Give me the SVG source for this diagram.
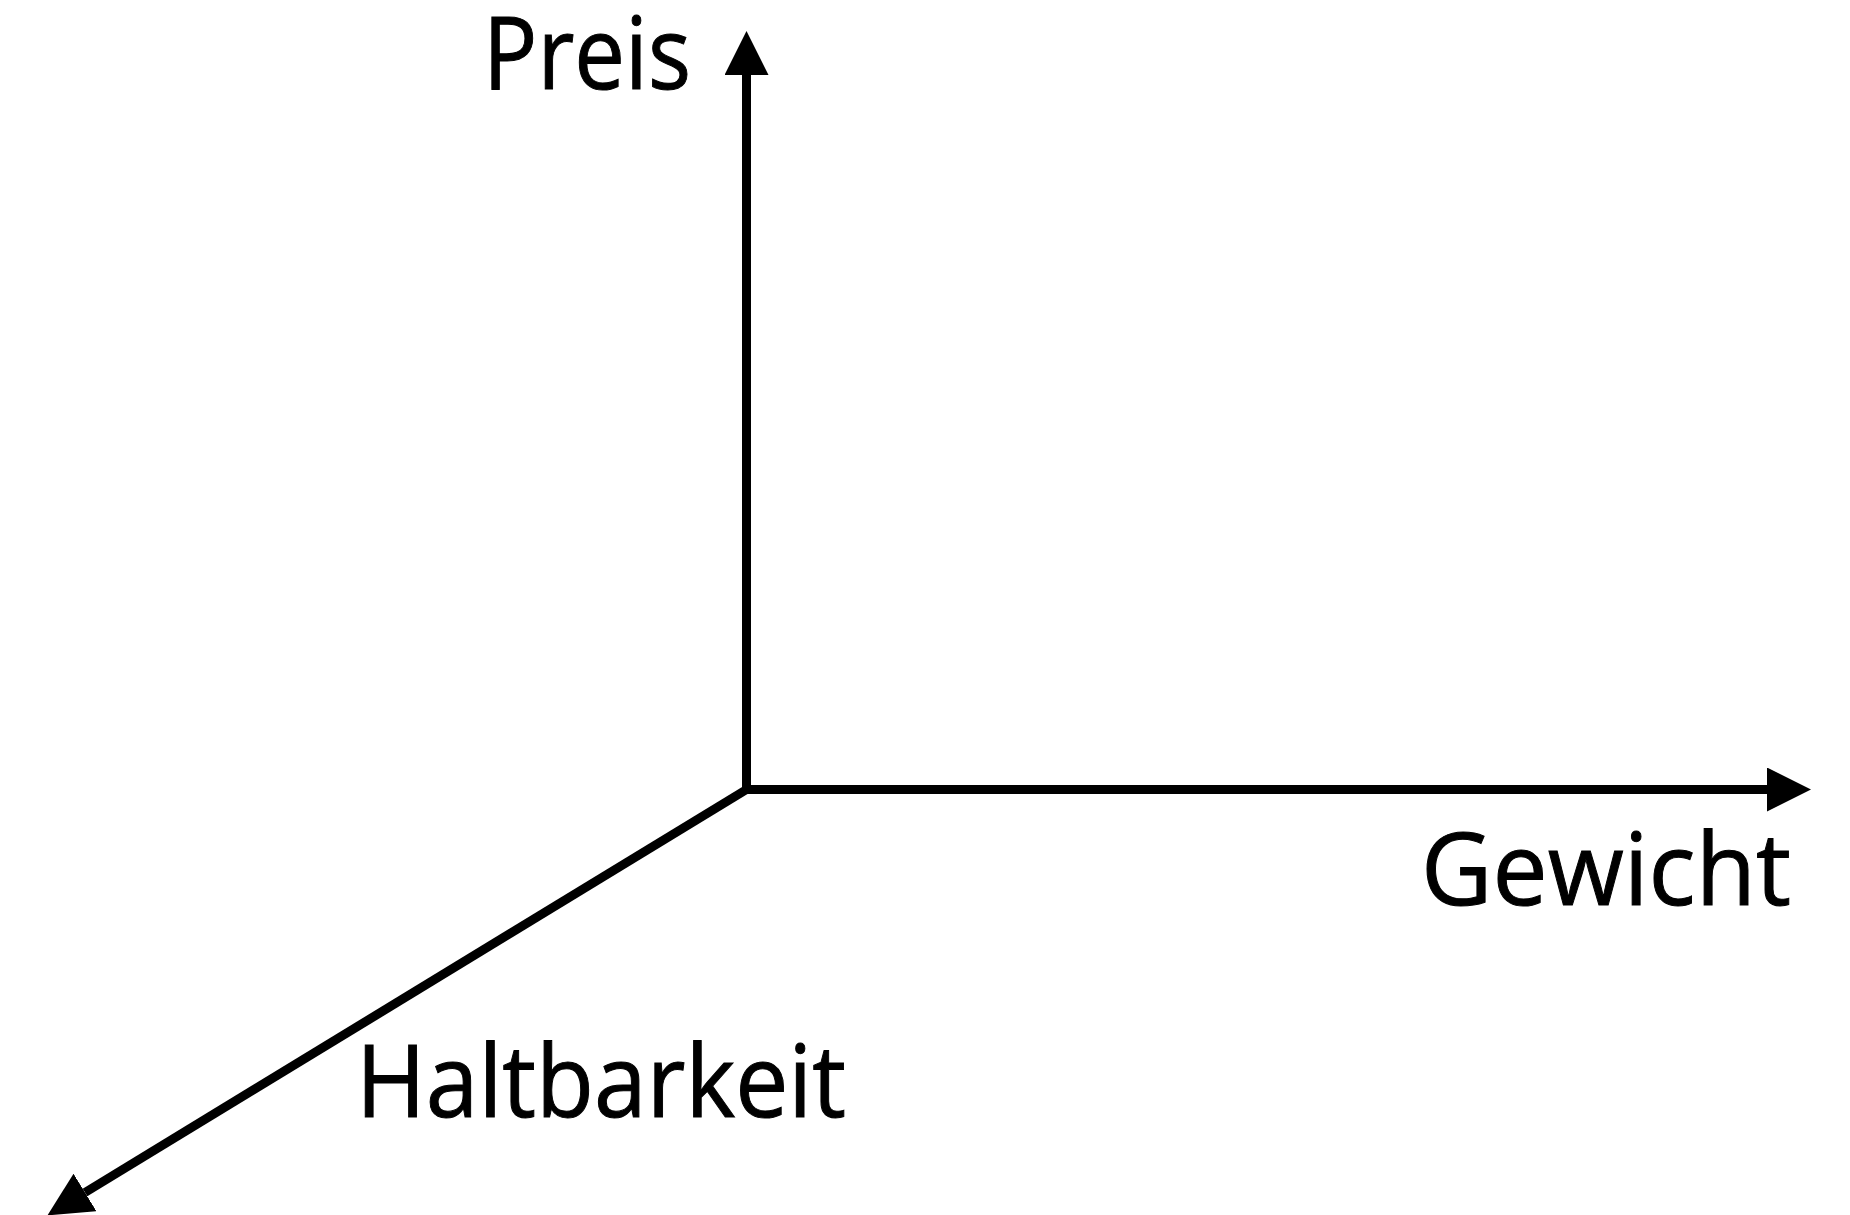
<svg xmlns="http://www.w3.org/2000/svg" width="1850" height="1215" viewBox="0 0 1850 1215">
  <style>
    .axis { fill: none; stroke: #000; stroke-width: 9; stroke-linejoin: miter; }
    .label { font-family: "Open Sans", "Noto Sans", "Liberation Sans", sans-serif; font-size: 101px; fill: #000; stroke: #000; stroke-width: 1; }
  </style>
  <defs>
    <marker id="arrow" viewBox="0 0 44 44" markerWidth="44" markerHeight="44" refX="0" refY="22" orient="auto" markerUnits="userSpaceOnUse">
      <path d="M0,0 L44,22 L0,44 Z" fill="#000"/>
    </marker>
  </defs>
  <rect width="1850" height="1215" fill="#fff"/>
  <g id="connectors">
    <path id="axis-preis" class="axis" d="M746.5,794 L746.5,75" marker-end="url(#arrow)"/>
    <path id="axis-gewicht" class="axis" d="M742,789.5 L1767,789.5" marker-end="url(#arrow)"/>
    <path id="axis-haltbarkeit" class="axis" d="M746.5,789.5 L85,1192.5" marker-end="url(#arrow)"/>
  </g>
  <g id="node-preis">
    <text class="label" x="483" y="89" textLength="208" lengthAdjust="spacingAndGlyphs">Preis</text>
  </g>
  <g id="node-gewicht">
    <text class="label" x="1421" y="905" textLength="370" lengthAdjust="spacingAndGlyphs">Gewicht</text>
  </g>
  <g id="node-haltbarkeit">
    <text class="label" x="356" y="1117" textLength="490" lengthAdjust="spacingAndGlyphs">Haltbarkeit</text>
  </g>
</svg>
